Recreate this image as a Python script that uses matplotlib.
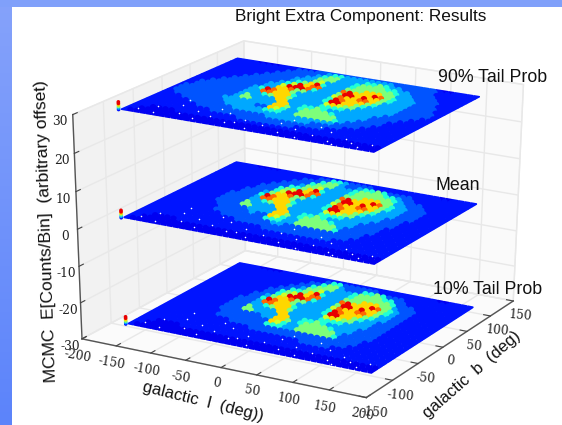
import numpy as np
import matplotlib
matplotlib.use("Agg")
import matplotlib.pyplot as plt
from matplotlib.patches import Rectangle, Polygon
from matplotlib.colors import LinearSegmentedColormap

# ---- data (digit = colour level of one sky cell, rows run from high b to low b)
map_top = [
"1111000011111122222222222222222221001111",
"1111111111122222344333333332222222111111",
"1111111111222223455333344543322222111111",
"1111111112222233555333455554433222211111",
"1111111122222333563333455555543322221111",
"1111111222222345794333555777553332222111",
"1111112222223469788333897779854333222111",
"1111122222233699984333599797754333222211",
"1111222222233778553333687788753333222211",
"1112222222349877533333498777543333222221",
"1122222222338877743333499775433333222221",
"1122222222333457753333367655333333222211",
"1222222222353333773333344443333332222111",
"1222222222355333377334454333333322221111",
"1222222223333333377534555543333322211111",
"1122222222333332276433555555333222211111",
"1111222222233333344433555555432222111111",
"1111112222222333333333333333322221111111",
"1111111122222222222333333322222111111111",
"1111111111122222222222222222211111111111",
"1111111111111111222222222111111111111111",
"1110000111111111111111111111111111111111",
"1100000000000000000000000000000000000000",
"1000000000000000000000000000000000000000",
]
map_mean = [
"1111000011111111111111111111111111001111",
"1111111111111112244322221111111111111111",
"1111111111111222455322344542222111111111",
"1111111111112224555333455554432211111111",
"1111111111122235563333455555543222111111",
"1111111111222445794333555777553322211111",
"1111111112224569788333897779854332221111",
"1111111112224699984333599797754332221111",
"1111111122235778553333687788753332221111",
"1111111122249877533333498777543332221111",
"1111111222238877743333499775433322211111",
"1111111222233457753333367655333322211111",
"1111111222253333773333344443333222211111",
"1111111222255333377334454333332222111111",
"1111111122222333377534555543332222111111",
"1111111112222232276433555555322222111111",
"1111111112222222244433555555422221111111",
"1111111111122222222332222222222221111111",
"1111111111111122222222222222222211111111",
"1111111111111111111222222222221111111111",
"1111111111111111111111111111111111111111",
"1110000111111111111111111111111111111111",
"1100000000000000000000000000000000000000",
"1000000000000000000000000000000000000000",
]
map_bottom = [
"1111000011111111111111111111111111001111",
"1111111111111111244222222111111111111111",
"1111111111111122455322244542221111111111",
"1111111111111224555333455554422111111111",
"1111111111112235563333455555542221111111",
"1111111111122445794333555777553222111111",
"1111111111224569788333897779854322111111",
"1111111111224699984333599797754322111111",
"1111111112235778553333687788753322111111",
"1111111112249877533333498777543322111111",
"1111111122238877743333499775433222111111",
"1111111122233457753333367655333222111111",
"1111111122253333773333344443333222111111",
"1111111122255333377334454333332222111111",
"1111111122222223377534555543332222111111",
"1111111112222222276433555555322222111111",
"1111111112222222244433555555422221111111",
"1111111111112222222222222222222221111111",
"1111111111111111222222222222222211111111",
"1111111111111111111111111222221111111111",
"1111111111111111111111111111111111111111",
"1110000111111111111111111111111111111111",
"1100000000000000000000000000000000000000",
"1000000000000000000000000000000000000000",
]
layer_z = [26, 0, -26]
layer_l = [(-202, 150), (-179, 173), (-154, 191)]
layer_b = [(-73, 140), (-101, 107), (-128, 80)]
level_frac = [0.10, 0.145, 0.21, 0.29, 0.39, 0.50, 0.60, 0.68, 0.80, 0.91]
stub_levels = [1, 3, 5, 7, 9, 9]
stub_dz = [0.0, 0.4, 0.8, 1.2, 1.6, 2.0]
speck_u = [.05,.09,.12,.16,.2,.24,.27,.31,.35,.39,.44,.48,.52,.56,.6,.64,.68,.72,.76,.8,.84,.88,.92,.15,.3,.42,.58,.7,.83,.95]
speck_v = [.06,.14,.04,.2,.09,.16,.05,.12,.2,.07,.14,.04,.11,.18,.06,.13,.03,.1,.17,.05,.12,.08,.04,.28,.24,.09,.25,.22,.02,.1]
z_ticks = [-30, -20, -10, 0, 10, 20, 30]
l_ticks = [-200, -150, -100, -50, 0, 50, 100, 150, 200]
b_ticks = [-150, -100, -50, 0, 50, 100, 150]

W, H = 562, 425
plt.rcParams['axes.unicode_minus'] = False
plt.rcParams['grid.color'] = '#e8e8e8'
plt.rcParams['grid.linewidth'] = 1.0
plt.rcParams['font.family'] = 'Liberation Sans'
fig = plt.figure(figsize=(W/100, H/100), dpi=100, facecolor='white')

# slide frame
fig.add_artist(Rectangle((0, 1-7/H), 1, 7/H, transform=fig.transFigure, color='#80a0fa', lw=0))
strip = fig.add_axes([0, 0, 12/W, 1], zorder=0)
strip.imshow(np.linspace(0, 1, 64)[:, None], aspect='auto',
             cmap=LinearSegmentedColormap.from_list('frame', ['#85a2fb', '#5c84fa']))
strip.axis('off')

ax = fig.add_axes([0, 0, 1, 1], projection='3d', facecolor='none', zorder=1)
ax.apply_aspect = lambda position=None: None
ax.set_proj_type('ortho')
ax.computed_zorder = False
ax.set_xlim(-200, 200, view_margin=0)
ax.set_ylim(-150, 150, view_margin=0)
ax.set_zlim(-30, 30, view_margin=0)

# camera fitted to the corners of the reference box
world = [(-200,-150,-30),(200,-150,-30),(200,150,-30),(-200,150,-30),(-200,-150,30),(200,150,30),(-200,150,30)]
pix = [(82,339),(367,397),(513,302),(245,250),(72,115),(523,84),(245,41)]
A = []
for (X, Y, Z), (u, v) in zip(world, pix):
    X, Y, Z = X/200, Y/150, Z/30
    u, v = u/W, v/H
    A.append([X,Y,Z,1,0,0,0,0,-u*X,-u*Y,-u*Z,-u])
    A.append([0,0,0,0,X,Y,Z,1,-v*X,-v*Y,-v*Z,-v])
P = np.linalg.svd(np.array(A))[2][-1].reshape(3, 4)
e4 = np.array([0, 0, 0, 1.])
if P[2] @ e4 < 0:
    P = -P
P = P @ np.diag([1/200, 1/150, 1/30, 1])
x0, x1 = ax.viewLim.intervalx
y0, y1 = ax.viewLim.intervaly
M = np.vstack([(x1-x0)*P[0]+x0*P[2], (y0-y1)*P[1]+y1*P[2], P[2]-0.5*(P[2]@e4)*e4, P[2]])
ax.get_proj = lambda: M

ax.xaxis.set_pane_color('#f2f2f2')
ax.yaxis.set_pane_color('#fafafa')
ax.zaxis.set_pane_color('#fbfbfb')
for a in (ax.xaxis, ax.yaxis, ax.zaxis):
    a.pane.set_edgecolor('#ececec')
    a.line.set_color('#555555')
    a.line.set_linewidth(1.0)
    a._axinfo['tick'].update(inward_factor=0.0, outward_factor=0.3)
    a.set_rotate_label(False)
ax.set_xticks(l_ticks); ax.set_yticks(b_ticks); ax.set_zticks(z_ticks)
ax.zaxis.set_ticks_position('lower'); ax.zaxis.set_label_position('lower')
for name, rot in (('x', -10), ('y', -5), ('z', 0)):
    ax.tick_params(axis=name, labelsize=8.8, pad=-3, color='#444444', labelcolor='#222222', labelrotation=rot)
    for t in getattr(ax, name+'axis').get_ticklabels():
        t.set_family('DejaVu Serif')

lab = dict(fontsize=12, color='#111111')
ax.set_xlabel('galactic  l  (deg))', labelpad=-1, rotation=-14, **lab)
ax.set_ylabel('galactic  b  (deg)', labelpad=-2, rotation=41, **lab)
ax.set_zlabel('MCMC  E[Counts/Bin]  (arbitrary offset)', labelpad=-8.5, rotation=92, fontsize=12.5, color='#111111')

cmap = plt.get_cmap('jet')
fr = np.array(level_frac)
for rows, z, (l0, l1), (b0, b1) in zip((map_top, map_mean, map_bottom), layer_z, layer_l, layer_b):
    g = np.array([[int(c) for c in r.ljust(40, '1')[:40]] for r in rows])
    nr, nc = g.shape
    ls = l0 + (np.arange(nc)+.5)*(l1-l0)/nc
    bs = b1 - (np.arange(nr)+.5)*(b1-b0)/nr
    LL, BB = np.meshgrid(ls, bs)
    sc = ax.scatter(LL.ravel(), BB.ravel(), np.full(g.size, z), c=fr[g.ravel()], cmap=cmap, vmin=0, vmax=1,
                    s=24, marker='o', linewidths=0, depthshade=False, zorder=3)
    corners = np.array([[l0, b0, z, 1], [l1, b0, z, 1], [l1, b1, z, 1], [l0, b1, z, 1]], float)
    q = (M @ corners.T)
    sc.set_clip_path(Polygon(np.c_[q[0]/q[3], q[1]/q[3]], closed=True, transform=ax.transData))
    ax.scatter(l0+np.array(speck_u)*(l1-l0), b0+np.array(speck_v)*(b1-b0), np.full(len(speck_u), z),
               c='white', s=1.3, linewidths=0, depthshade=False, zorder=4)
    ax.scatter([l0]*len(stub_dz), [b0]*len(stub_dz), z+np.array(stub_dz), c=fr[stub_levels], cmap=cmap,
               vmin=0, vmax=1, s=7, linewidths=0, depthshade=False, zorder=4)

fig.suptitle('Bright Extra Component: Results', x=235/W, y=1-16/H, ha='left', va='center', fontsize=12.4, color='#111111')
fig.text(438/W, 1-78/H, '90% Tail Prob', va='center', fontsize=12.8, color='#111111', zorder=5)
fig.text(436/W, 1-186/H, 'Mean', va='center', fontsize=12.8, color='#111111', zorder=5)
fig.text(433/W, 1-290/H, '10% Tail Prob', va='center', fontsize=12.8, color='#111111', zorder=5)
fig.savefig('out.png', dpi=100)
